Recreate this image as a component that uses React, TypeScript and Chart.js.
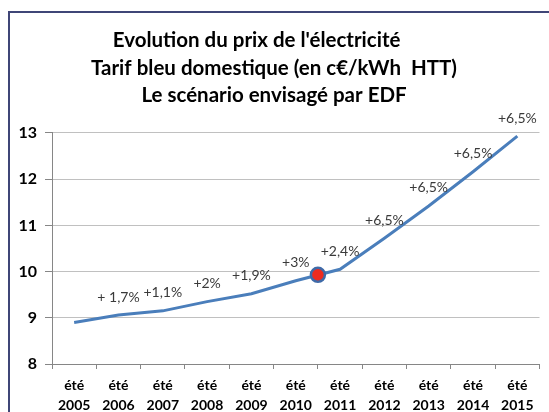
import React, { useEffect, useRef } from 'react';
import { Chart, registerables } from 'chart.js';

Chart.register(...registerables);

const titleLines = [
  "Evolution du prix de l'électricité       ",
  'Tarif bleu domestique (en c€/kWh  HTT)',
  'Le scénario envisagé par EDF',
];
const seasonLabel = 'été';
const years = ['2005', '2006', '2007', '2008', '2009', '2010', '2011', '2012', '2013', '2014', '2015'];
const prices = [8.9, 9.06, 9.15, 9.35, 9.52, 9.8, 10.05, 10.72, 11.42, 12.16, 12.93];
const changeLabels = ['', '+ 1,7%', '+1,1%', '+2%', '+1,9%', '+3%', '+2,4%', '+6,5%', '+6,5%', '+6,5%', '+6,5%'];
const markerPosition = [5.5];
const markerValue = [9.93];
const yMin = 8;
const yMax = 13;

const FONT = 'Lato, "Open Sans", sans-serif';

const changeLabelPlugin = {
  id: 'changeLabels',
  afterDatasetsDraw(chart: any) {
    const meta = chart.getDatasetMeta(0);
    const ctx = chart.ctx;
    ctx.save();
    ctx.font = `14px ${FONT}`;
    ctx.fillStyle = '#3a3a3a';
    ctx.textAlign = 'center';
    ctx.textBaseline = 'middle';
    meta.data.forEach((pt: any, i: number) => {
      const txt = changeLabels[i];
      if (!txt) return;
      ctx.fillText(txt, pt.x, pt.y - 18);
    });
    ctx.restore();
  },
};

export default function App() {
  const ref = useRef<HTMLCanvasElement>(null);
  useEffect(() => {
    const canvas = ref.current!;
    const chart = new Chart(canvas, {
      type: 'line',
      data: {
        datasets: [
          {
            label: 'Prix',
            data: prices.map((v, i) => ({ x: i, y: v })),
            borderColor: '#4a7ebb',
            borderWidth: 3,
            pointRadius: 0,
            tension: 0,
            order: 2,
          },
          {
            label: 'Marqueur',
            data: markerPosition.map((p, i) => ({ x: p, y: markerValue[i] })),
            showLine: false,
            pointRadius: 7,
            pointBackgroundColor: '#ee2b1f',
            pointBorderColor: '#3f6aa8',
            pointBorderWidth: 2.5,
            order: 1,
          },
        ],
      },
      options: {
        responsive: false,
        animation: false,
        devicePixelRatio: 1,
        layout: { padding: { left: 8, right: 9, top: 0, bottom: 0 } },
        plugins: {
          legend: { display: false },
          tooltip: { enabled: false },
          title: {
            display: true,
            text: titleLines,
            color: '#000',
            font: { family: FONT, size: 20.5, weight: 'bold', lineHeight: 1.34 },
            padding: { top: 27, bottom: 23.5 },
          },
        },
        scales: {
          x: {
            type: 'linear',
            min: -0.5,
            max: 10.5,
            afterBuildTicks: (scale: any) => {
              scale.ticks = years.map((_, i) => ({ value: i }));
            },
            afterFit: (scale: any) => {
              scale.height = 48;
            },
            grid: {
              offset: true,
              drawOnChartArea: false,
              drawTicks: true,
              tickLength: 5,
              color: '#868686',
            },
            border: { display: true, color: '#868686', width: 1 },
            ticks: {
              autoSkip: false,
              maxRotation: 0,
              padding: 6,
              color: '#000',
              font: { family: FONT, size: 14, weight: 'bold', lineHeight: 1.43 },
              callback: (_v: any, i: number) => [seasonLabel, years[i]],
            },
          },
          y: {
            min: yMin,
            max: yMax,
            afterFit: (scale: any) => {
              scale.width = 44;
            },
            grid: {
              color: '#c0c0c0',
              drawTicks: true,
              tickLength: 7,
              tickColor: '#868686',
            },
            border: { display: true, color: '#868686', width: 1 },
            ticks: {
              stepSize: 1,
              padding: 8,
              color: '#000',
              font: { family: FONT, size: 16, weight: 'bold' },
            },
          },
        },
      },
      plugins: [changeLabelPlugin],
    });
    return () => chart.destroy();
  }, []);

  return (
    <div
      style={{
        position: 'fixed',
        left: 0,
        top: 0,
        width: 549,
        height: 412,
        overflow: 'hidden',
        background: '#fff',
      }}
    >
      <div
        style={{
          position: 'absolute',
          left: 8,
          top: 11,
          width: 600,
          height: 500,
          border: '2px solid #3f4677',
          boxSizing: 'border-box',
        }}
      />
      <canvas
        ref={ref}
        width={549}
        height={412}
        style={{ position: 'absolute', left: 0, top: 0, width: 549, height: 412 }}
      />
    </div>
  );
}
